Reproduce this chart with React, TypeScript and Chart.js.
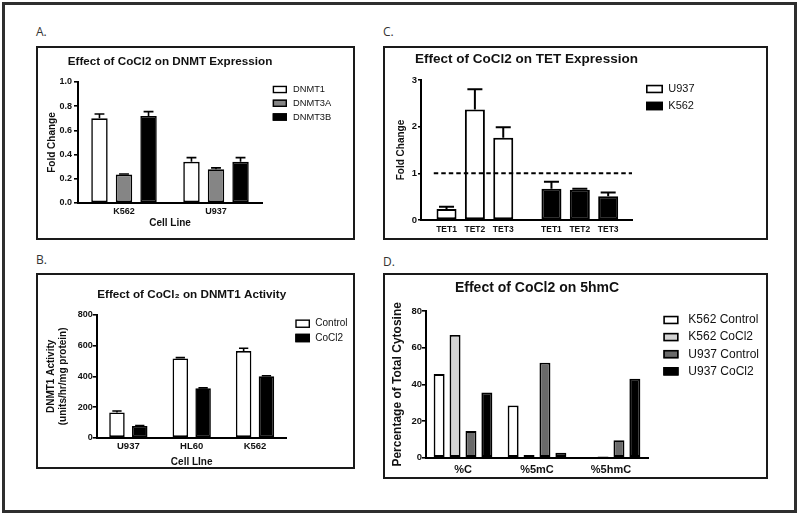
import React, { useEffect, useRef } from 'react';
import { Chart, registerables } from 'chart.js';

Chart.register(...registerables);

const FONT = "'Liberation Sans', Arial, Helvetica, sans-serif";
Chart.defaults.font.family = FONT;
Chart.defaults.color = '#111';

// ---------- Panel A: Effect of CoCl2 on DNMT Expression ----------
const dnmtCellLines = ['K562', 'U937'];
const dnmt1Expr = [0.70, 0.34];
const dnmt1ExprErr = [0.035, 0.035];
const dnmt3aExpr = [0.235, 0.278];
const dnmt3aExprErr = [0.005, 0.012];
const dnmt3bExpr = [0.72, 0.34];
const dnmt3bExprErr = [0.035, 0.035];

// ---------- Panel B: Effect of CoCl2 on DNMT1 Activity ----------
const activityCellLines = ['U937', 'HL60', 'K562'];
const activityControl = [165, 517, 565];
const activityControlErr = [9, 5, 18];
const activityCoCl2 = [76, 322, 400];
const activityCoCl2Err = [4, 3, 4];

// ---------- Panel C: Effect of CoCl2 on TET Expression ----------
const tetGenes = ['TET1', 'TET2', 'TET3'];
const tetU937 = [0.236, 2.37, 1.76];
const tetU937Err = [0.05, 0.43, 0.23];
const tetK562 = [0.67, 0.65, 0.51];
const tetK562Err = [0.15, 0.02, 0.08];
const tetBaseline = 1;

// ---------- Panel D: Effect of CoCl2 on 5hmC ----------
const cytosineForms = ['%C', '%5mC', '%5hmC'];
const k562Control = [45.6, 28.5, 0];
const k562CoCl2 = [66.9, 1.5, 0.7];
const u937Control = [14.5, 51.8, 9.5];
const u937CoCl2 = [35.5, 2.7, 43];

// ---------- plugins ----------
const errorBarPlugin = {
  id: 'errorBars',
  afterDatasetsDraw(chart: any, _args: any, opts: any) {
    const ctx = chart.ctx;
    const yScale = chart.scales.y;
    chart.data.datasets.forEach((ds: any, i: number) => {
      const errs = ds.errors;
      if (!errs) return;
      const meta = chart.getDatasetMeta(i);
      meta.data.forEach((el: any, j: number) => {
        const raw = ds.data[j];
        const v = raw !== null && typeof raw === 'object' ? raw.y : raw;
        const e = errs[j];
        if (v == null || !e) return;
        const top = yScale.getPixelForValue(v + e);
        const base = yScale.getPixelForValue(v);
        const half = (el.width * (opts.cap ?? 0.6)) / 2;
        ctx.save();
        ctx.strokeStyle = '#000';
        ctx.lineWidth = opts.lineWidth ?? 1.6;
        ctx.beginPath();
        ctx.moveTo(el.x, base);
        ctx.lineTo(el.x, top);
        ctx.moveTo(el.x - half, top);
        ctx.lineTo(el.x + half, top);
        ctx.stroke();
        ctx.restore();
      });
    });
  },
};

const sideLegendPlugin = {
  id: 'sideLegend',
  afterDraw(chart: any, _args: any, o: any) {
    if (!o || o.x == null) return;
    const ctx = chart.ctx;
    ctx.save();
    ctx.font = `${o.fontSize}px ${FONT}`;
    ctx.textBaseline = 'middle';
    ctx.textAlign = 'left';
    chart.data.datasets.forEach((ds: any, i: number) => {
      const cy = o.y + i * o.rowH;
      const lw = o.lineWidth ?? 1.6;
      ctx.fillStyle = ds.backgroundColor;
      ctx.fillRect(o.x, cy - o.boxH / 2, o.boxW, o.boxH);
      ctx.lineWidth = lw;
      ctx.strokeStyle = '#000';
      ctx.strokeRect(o.x + lw / 2, cy - o.boxH / 2 + lw / 2, o.boxW - lw, o.boxH - lw);
      ctx.fillStyle = '#111';
      ctx.fillText(ds.label, o.textX, cy);
    });
    ctx.restore();
  },
};

const panelTitlePlugin = {
  id: 'panelTitle',
  afterDraw(chart: any, _args: any, o: any) {
    if (!o || !o.text) return;
    const ctx = chart.ctx;
    const { left, right } = chart.chartArea;
    ctx.save();
    ctx.font = `bold ${o.size}px ${FONT}`;
    ctx.fillStyle = '#111';
    ctx.textAlign = 'center';
    ctx.textBaseline = 'middle';
    ctx.fillText(o.text, (left + right) / 2, o.y);
    ctx.restore();
  },
};

const refLinePlugin = {
  id: 'refLine',
  afterDatasetsDraw(chart: any, _args: any, o: any) {
    if (!o || o.value == null) return;
    const ctx = chart.ctx;
    const y = chart.scales.y.getPixelForValue(o.value);
    const x0 = chart.scales.x.getPixelForValue(o.from);
    const x1 = chart.chartArea.right;
    ctx.save();
    ctx.strokeStyle = '#000';
    ctx.lineWidth = 2;
    ctx.setLineDash([4.5, 3]);
    ctx.beginPath();
    ctx.moveTo(x0, y);
    ctx.lineTo(x1, y);
    ctx.stroke();
    ctx.restore();
  },
};

// ---------- helpers ----------
const AXIS_W = 2;

function yAxis(p: any) {
  return {
    min: p.min,
    max: p.max,
    afterFit: (s: any) => {
      s.width = p.width;
    },
    ticks: {
      stepSize: p.step,
      padding: p.tickPad,
      font: { size: p.tickSize, weight: 'bold' },
      color: '#111',
      callback: p.format,
    },
    grid: {
      display: true,
      drawOnChartArea: false,
      drawTicks: true,
      tickLength: p.tickLen ?? 4,
      color: '#000',
      lineWidth: 1.6,
    },
    border: { display: true, color: '#000', width: AXIS_W },
    title: {
      display: true,
      text: p.title,
      font: { size: p.titleSize, weight: 'bold', lineHeight: p.titleLH ?? 1.2 },
      color: '#111',
      padding: { top: p.titlePad, bottom: 0 },
    },
  };
}

function xCatAxis(p: any) {
  return {
    type: 'category',
    offset: true,
    afterFit: (s: any) => {
      s.height = p.height;
    },
    ticks: { padding: p.tickPad, font: { size: p.tickSize, weight: 'bold' }, color: '#111', autoSkip: false, maxRotation: 0 },
    grid: { display: false, drawTicks: false },
    border: { display: true, color: '#000', width: AXIS_W },
    title: p.title
      ? {
          display: true,
          text: p.title,
          font: { size: p.titleSize, weight: 'bold', lineHeight: p.titleLH ?? 1.2 },
          color: '#111',
          padding: { top: 0, bottom: p.titlePad },
        }
      : { display: false },
  };
}

const barBase = { borderColor: '#000', borderSkipped: false as const };

// ---------- configs ----------
function configA(): any {
  return {
    type: 'bar',
    data: {
      labels: dnmtCellLines,
      datasets: [
        { ...barBase, label: 'DNMT1', data: dnmt1Expr, errors: dnmt1ExprErr, backgroundColor: '#ffffff', borderWidth: 1.6 },
        { ...barBase, label: 'DNMT3A', data: dnmt3aExpr, errors: dnmt3aExprErr, backgroundColor: '#858585', borderWidth: 1.6 },
        { ...barBase, label: 'DNMT3B', data: dnmt3bExpr, errors: dnmt3bExprErr, backgroundColor: '#000000', borderWidth: 1.6 },
      ],
    },
    options: {
      responsive: false,
      animation: false,
      devicePixelRatio: 1,
      categoryPercentage: 0.8,
      barPercentage: 0.67,
      layout: { padding: { left: 0, right: 91, top: 34, bottom: 7 } },
      scales: {
        x: xCatAxis({ height: 28, tickPad: 3.6, tickSize: 9, title: 'Cell Line', titleSize: 10, titlePad: 2 }),
        y: yAxis({
          min: 0, max: 1, step: 0.2, width: 40, tickPad: 2, tickSize: 9,
          format: (v: number) => v.toFixed(1), title: 'Fold Change', titleSize: 10, titlePad: 8,
        }),
      },
      plugins: {
        legend: { display: false },
        tooltip: { enabled: false },
        title: { display: false },
        panelTitle: { text: 'Effect of CoCl2 on DNMT Expression', size: 11.7, y: 14 },
        errorBars: { cap: 0.6, lineWidth: 1.6 },
        sideLegend: { x: 234.7, y: 41.5, rowH: 13.75, boxW: 14.3, boxH: 7.5, textX: 255, fontSize: 9.3, lineWidth: 1.4 },
      },
    },
    plugins: [errorBarPlugin, sideLegendPlugin, panelTitlePlugin],
  };
}

function configB(): any {
  return {
    type: 'bar',
    data: {
      labels: activityCellLines,
      datasets: [
        { ...barBase, label: 'Control', data: activityControl, errors: activityControlErr, backgroundColor: '#ffffff', borderWidth: 1.6 },
        { ...barBase, label: 'CoCl2', data: activityCoCl2, errors: activityCoCl2Err, backgroundColor: '#000000', borderWidth: 1.6 },
      ],
    },
    options: {
      responsive: false,
      animation: false,
      devicePixelRatio: 1,
      categoryPercentage: 0.72,
      barPercentage: 0.68,
      layout: { padding: { left: 0, right: 66.3, top: 40, bottom: 0 } },
      scales: {
        x: xCatAxis({ height: 29.3, tickPad: 3.3, tickSize: 9.5, title: 'Cell LIne', titleSize: 10, titlePad: 0, titleLH: 1 }),
        y: yAxis({
          min: 0, max: 800, step: 200, width: 58.7, tickPad: 0, tickSize: 9,
          format: (v: number) => String(v), title: ['DNMT1 Activity', '(units/hr/mg protein)'],
          titleSize: 10, titlePad: 6.5, titleLH: 1.25,
        }),
      },
      plugins: {
        legend: { display: false },
        tooltip: { enabled: false },
        title: { display: false },
        panelTitle: { text: 'Effect of CoCl\u2082 on DNMT1 Activity', size: 11.7, y: 19.7 },
        errorBars: { cap: 0.6, lineWidth: 1.6 },
        sideLegend: { x: 257.3, y: 48.7, rowH: 14.3, boxW: 14.7, boxH: 8.5, textX: 277.3, fontSize: 10, lineWidth: 1.4 },
      },
    },
    plugins: [errorBarPlugin, sideLegendPlugin, panelTitlePlugin],
  };
}

const TET_GROUP_GAP = 0.7;
const tetU937Pos = tetGenes.map((_, i) => i + 1);
const tetK562Pos = tetGenes.map((_, i) => i + 1 + tetGenes.length + TET_GROUP_GAP);
const tetTickPos = [...tetU937Pos, ...tetK562Pos];
const tetTickLabels = [...tetGenes, ...tetGenes];

function configC(): any {
  return {
    type: 'bar',
    data: {
      datasets: [
        {
          ...barBase, label: 'U937', data: tetU937.map((y, i) => ({ x: tetU937Pos[i], y })),
          errors: tetU937Err, backgroundColor: '#ffffff', borderWidth: 2,
        },
        {
          ...barBase, label: 'K562', data: tetK562.map((y, i) => ({ x: tetK562Pos[i], y })),
          errors: tetK562Err, backgroundColor: '#000000', borderWidth: 2,
        },
      ],
    },
    options: {
      responsive: false,
      animation: false,
      devicePixelRatio: 1,
      grouped: false,
      categoryPercentage: 1,
      barPercentage: 0.706,
      layout: { padding: { left: 0, right: 134, top: 32, bottom: 0 } },
      scales: {
        x: {
          type: 'linear',
          min: 0.1,
          max: 7.54,
          offset: false,
          afterFit: (s: any) => {
            s.height = 18;
          },
          afterBuildTicks: (s: any) => {
            s.ticks = tetTickPos.map((value) => ({ value }));
          },
          ticks: {
            autoSkip: false,
            maxRotation: 0,
            padding: 4.9,
            font: { size: 8.5, weight: 'bold' },
            color: '#111',
            callback: (_v: any, i: number) => tetTickLabels[i],
          },
          grid: { display: false, drawTicks: false, offset: false },
          border: { display: true, color: '#000', width: AXIS_W },
        },
        y: yAxis({
          min: 0, max: 3, step: 1, width: 36, tickPad: 1, tickLen: 3, tickSize: 9.5,
          format: (v: number) => String(v), title: 'Fold Change', titleSize: 10, titlePad: 10.7,
        }),
      },
      plugins: {
        legend: { display: false },
        tooltip: { enabled: false },
        title: { display: false },
        panelTitle: { text: 'Effect of CoCl2 on TET Expression', size: 13.5, y: 11.3 },
        errorBars: { cap: 0.75, lineWidth: 2 },
        refLine: { value: tetBaseline, from: 0.55 },
        sideLegend: { x: 261, y: 41, rowH: 17, boxW: 17, boxH: 8.5, textX: 283.3, fontSize: 11, lineWidth: 1.6 },
      },
    },
    plugins: [errorBarPlugin, refLinePlugin, sideLegendPlugin, panelTitlePlugin],
  };
}

function configD(): any {
  return {
    type: 'bar',
    data: {
      labels: cytosineForms,
      datasets: [
        { ...barBase, label: 'K562 Control', data: k562Control, backgroundColor: '#ffffff', borderWidth: 1.8 },
        { ...barBase, label: 'K562 CoCl2', data: k562CoCl2, backgroundColor: '#d3d3d3', borderWidth: 1.8 },
        { ...barBase, label: 'U937 Control', data: u937Control, backgroundColor: '#6a6a6a', borderWidth: 1.8 },
        { ...barBase, label: 'U937 CoCl2', data: u937CoCl2, backgroundColor: '#000000', borderWidth: 1.8 },
      ],
    },
    options: {
      responsive: false,
      animation: false,
      devicePixelRatio: 1,
      categoryPercentage: 0.86,
      barPercentage: 0.69,
      layout: { padding: { left: 0, right: 118, top: 36, bottom: 0 } },
      scales: {
        x: xCatAxis({ height: 19.3, tickPad: 5.7, tickSize: 11 }),
        y: yAxis({
          min: 0, max: 80, step: 20, width: 41, tickPad: 0, tickSize: 9.5,
          format: (v: number) => String(v), title: 'Percentage of Total Cytosine', titleSize: 12, titlePad: 5.1,
        }),
      },
      plugins: {
        legend: { display: false },
        tooltip: { enabled: false },
        title: { display: false },
        panelTitle: { text: 'Effect of CoCl2 on 5hmC', size: 14, y: 13.3 },
        sideLegend: { x: 278.3, y: 45, rowH: 17.1, boxW: 15.3, boxH: 8.5, textX: 303.3, fontSize: 12, lineWidth: 1.6 },
      },
    },
    plugins: [sideLegendPlugin, panelTitlePlugin],
  };
}

// ---------- components ----------
function ChartBox(props: { config: () => any; left: number; top: number; width: number; height: number }) {
  const { config, left, top, width, height } = props;
  const ref = useRef<HTMLCanvasElement>(null);
  useEffect(() => {
    const chart = new Chart(ref.current as HTMLCanvasElement, config());
    return () => chart.destroy();
  }, []);
  const iw = width - 4;
  const ih = height - 4;
  return (
    <div
      style={{
        position: 'absolute', left, top, width, height,
        border: '2px solid #1a1a1a', boxSizing: 'border-box', background: '#fff',
      }}
    >
      <canvas ref={ref} width={iw} height={ih} style={{ display: 'block', width: iw, height: ih }} />
    </div>
  );
}

function PanelLabel(props: { text: string; left: number; top: number }) {
  return (
    <div
      style={{
        position: 'absolute', left: props.left, top: props.top, lineHeight: '16px',
        fontFamily: "'Open Sans', 'Noto Sans', sans-serif", fontSize: 12, color: '#333',
      }}
    >
      {props.text}
    </div>
  );
}

export default function App() {
  return (
    <div style={{ position: 'absolute', left: 0, top: 0, width: 800, height: 516, background: '#fff', overflow: 'hidden' }}>
      <div
        style={{
          position: 'absolute', left: 2, top: 2, width: 795, height: 511,
          border: '3px solid #2e2e2e', boxSizing: 'border-box',
        }}
      />
      <PanelLabel text="A." left={36} top={24} />
      <PanelLabel text="C." left={383} top={24} />
      <PanelLabel text="B." left={36} top={252} />
      <PanelLabel text="D." left={383} top={254} />
      <ChartBox config={configA} left={36} top={46} width={319} height={194} />
      <ChartBox config={configC} left={383} top={46} width={385} height={194} />
      <ChartBox config={configB} left={36} top={273} width={319} height={196} />
      <ChartBox config={configD} left={383} top={273} width={385} height={206} />
    </div>
  );
}
